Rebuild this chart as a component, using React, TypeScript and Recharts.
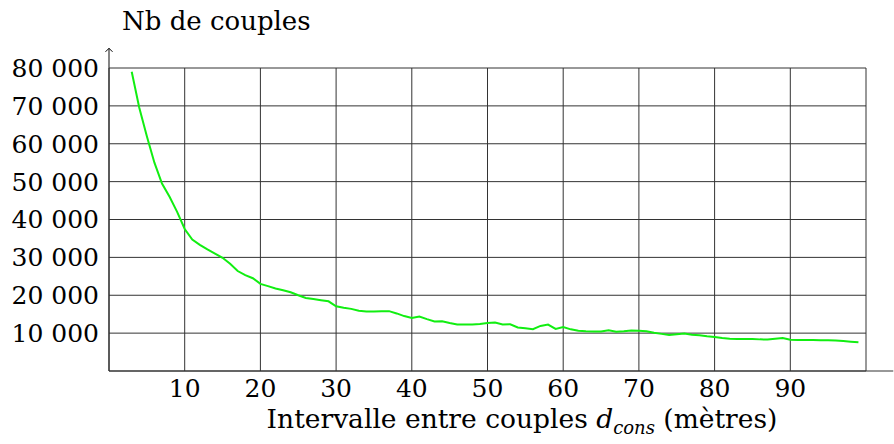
import { LineChart, Line, XAxis, YAxis, CartesianGrid, ReferenceLine, ReferenceDot } from 'recharts'

const intervals = [
  3, 4, 5, 6, 7, 8, 9, 10, 11, 12, 13, 14, 15, 16, 17, 18, 19, 20, 21, 22, 23, 24, 25, 26, 27, 28, 29, 30,
  31, 32, 33, 34, 35, 36, 37, 38, 39, 40, 41, 42, 43, 44, 45, 46, 47, 48, 49, 50, 51, 52, 53, 54, 55, 56,
  57, 58, 59, 60, 61, 62, 63, 64, 65, 66, 67, 68, 69, 70, 71, 72, 73, 74, 75, 76, 77, 78, 79, 80, 81, 82,
  83, 84, 85, 86, 87, 88, 89, 90, 91, 92, 93, 94, 95, 96, 97, 98, 99,
]

const couples = [
  79000, 69500, 62000, 55000, 49500, 46000, 42000, 37500, 34700, 33300, 32100, 31000, 29900, 28300, 26400,
  25300, 24500, 23000, 22400, 21800, 21300, 20800, 20000, 19300, 19000, 18700, 18400, 17100, 16700, 16400,
  15900, 15700, 15700, 15800, 15800, 15200, 14500, 14000, 14400, 13700, 13100, 13150, 12700, 12300, 12250,
  12250, 12400, 12700, 12800, 12300, 12350, 11500, 11300, 11050, 11900, 12250, 11100, 11600, 11000, 10600,
  10500, 10450, 10450, 10750, 10350, 10500, 10700, 10600, 10500, 10100, 9800, 9500, 9700, 9900, 9600, 9450,
  9200, 9000, 8700, 8500, 8450, 8450, 8450, 8350, 8300, 8500, 8700, 8250, 8200, 8200, 8200, 8150, 8100,
  8050, 7900, 7750, 7600,
]

const xTicks = [10, 20, 30, 40, 50, 60, 70, 80, 90, 100]
const yTicks = [10000, 20000, 30000, 40000, 50000, 60000, 70000, 80000]

const data = intervals.map((d, i) => ({ d, n: couples[i] }))

const FONT = "'DejaVu Serif', serif"

function fmtY(v: number) {
  return `${v / 1000} 000`
}

function fmtX(v: number) {
  return v === 100 ? '' : String(v)
}

function Arrow(props: any) {
  const { cx, cy } = props
  return (
    <path
      d={`M ${cx - 3.5} ${cy + 3.5} L ${cx} ${cy} L ${cx + 3.5} ${cy + 3.5}`}
      fill="none"
      stroke="#000"
      strokeWidth={1}
    />
  )
}

export default function App() {
  return (
    <div style={{ position: 'absolute', left: 0, top: 0, width: 894, height: 444, background: '#fff', fontFamily: FONT }}>
      <div style={{ position: 'absolute', left: 122, top: 6, fontSize: 26, lineHeight: '30px', color: '#000' }}>Nb de couples</div>
      <LineChart width={894} height={444} data={data} margin={{ top: 68, right: 28, bottom: 0, left: 1 }} style={{ fontFamily: FONT }}>
        <CartesianGrid stroke="#333" strokeWidth={1} horizontal vertical />
        <XAxis
          dataKey="d"
          type="number"
          domain={[0, 100]}
          ticks={xTicks}
          tickFormatter={fmtX}
          tickLine={false}
          axisLine={false}
          height={73}
          interval={0}
          tick={{ fill: '#000', fontSize: 25, fontFamily: FONT, dy: 0 }}
        />
        <YAxis
          type="number"
          domain={[0, 80000]}
          ticks={yTicks}
          tickFormatter={fmtY}
          tickLine={false}
          axisLine={false}
          width={108}
          interval={0}
          tick={{ fill: '#000', fontSize: 25, fontFamily: FONT, dx: -2 }}
        />
        <ReferenceLine
          segment={[{ x: 0, y: 0 }, { x: 103.6, y: 0 }]}
          stroke="#333"
          strokeWidth={1.2}
          ifOverflow="visible"
        />
        <ReferenceLine
          segment={[{ x: 0, y: 0 }, { x: 0, y: 85200 }]}
          stroke="#333"
          strokeWidth={1.2}
          ifOverflow="visible"
        />
        <ReferenceDot x={0} y={85200} ifOverflow="visible" shape={Arrow} />
        <Line
          type="linear"
          dataKey="n"
          stroke="#11ee11"
          strokeWidth={2}
          dot={false}
          isAnimationActive={false}
        />
      </LineChart>
      <div style={{ position: 'absolute', left: 0, width: 1044, top: 404, textAlign: 'center', fontSize: 26.5, lineHeight: '30px', color: '#000' }}>
        Intervalle entre couples <i>d</i>
        <sub style={{ fontSize: 18, fontStyle: 'italic', lineHeight: 0 }}>cons</sub> (mètres)
      </div>
    </div>
  )
}
